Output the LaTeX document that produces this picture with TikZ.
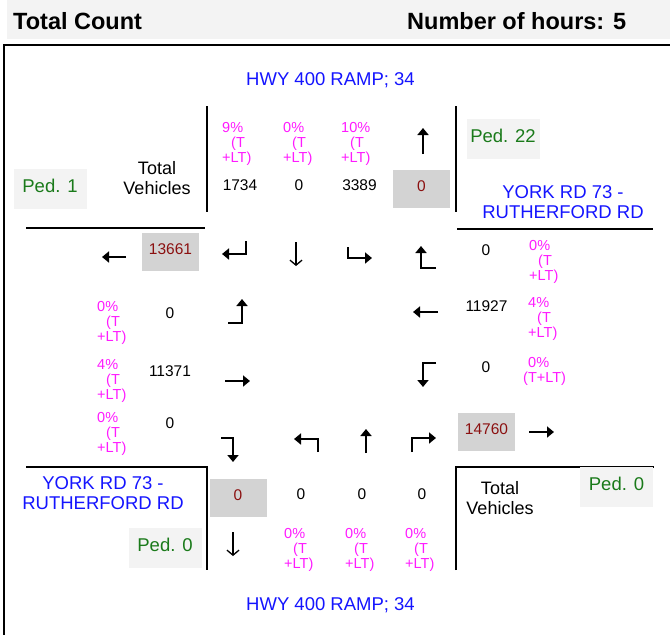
\documentclass[tikz,border=0pt]{standalone}
\usepackage{fontspec}
\setmainfont{Liberation Sans}
\usetikzlibrary{arrows.meta}
\definecolor{CountBlue}{HTML}{1414FF}
\definecolor{CountPink}{HTML}{FF1AFF}
\definecolor{CountGreen}{HTML}{1A7A1A}
\definecolor{CountRed}{HTML}{8B1010}
\definecolor{CountGray}{HTML}{D3D3D3}
\definecolor{PedGray}{HTML}{F3F3F3}
\newcommand{\pcttl}[1]{#1\%\\\hspace*{9pt}(T\\+LT)}

\tikzset{
  road/.style={CountBlue,font=\fontsize{18.5}{20}\selectfont,align=center,inner sep=0pt},
  pct/.style={CountPink,font=\fontsize{14.5}{15}\selectfont,align=left,anchor=north west,inner sep=0pt},
  cnt/.style={font=\fontsize{15.5}{17}\selectfont,inner sep=0pt},
  tot/.style={fill=CountGray,text=CountRed,font=\fontsize{15.5}{17}\selectfont,
    minimum width=57pt,minimum height=38pt,text height=11.5pt,text depth=7pt,inner sep=0pt},
  ped/.style={fill=PedGray,text=CountGreen,font=\fontsize{18.5}{20}\selectfont,
    minimum width=73pt,minimum height=40pt,text height=13pt,text depth=7pt,inner sep=0pt},
  veh/.style={font=\fontsize{18}{20}\selectfont,align=center,inner sep=0pt},
  hdr/.style={font=\fontsize{23.5}{26}\selectfont\bfseries,anchor=west,inner sep=0pt},
  mv/.style={line width=2.8pt},
  thru/.style={line width=1.3pt,-{Straight Barb[length=5pt,width=12pt]}},
  kerb/.style={line width=2.5pt},
}

\begin{document}
\begin{tikzpicture}[x=1pt,y=-1pt,>={Triangle[length=7pt,width=11pt]}]
  \useasboundingbox (0,0) rectangle (670,635);
  \fill[PedGray] (7,0) rectangle (670,39);
  \node[hdr] (title) at (13,21) {Total Count};
  \node[hdr] (hours) at (407,21) {Number of hours: 5};
  \draw[line width=2pt] (4,635) -- (4,45) -- (670,45);

  \node[road] (nroad) at (330.5,80) {HWY 400 RAMP; 34};
  \node[road] (sroad) at (330.5,605) {HWY 400 RAMP; 34};
  \node[road] (eroad) at (563,202) {YORK RD 73 -\\RUTHERFORD RD};
  \node[road] (wroad) at (103,493) {YORK RD 73 -\\RUTHERFORD RD};

  \draw[kerb] (26,228) -- (205,228);
  \draw[kerb] (207,106) -- (207,212);
  \draw[kerb] (456,106) -- (456,212);
  \draw[kerb] (457,229) -- (653,229);
  \draw[kerb] (26,467) -- (207,467) -- (207,570);
  \draw[kerb] (456,570) -- (456,467) -- (654,467);

  \node[ped] (pedw) at (50,189) {Ped. 1};
  \node[ped] (pedn) at (503,139) {Ped. 22};
  \node[ped] (peds) at (165,548) {Ped. 0};
  \node[ped] (pede) at (616.5,487) {Ped. 0};
  \node[veh] (vehnw) at (157,178.5) {Total\\Vehicles};
  \node[veh] (vehse) at (500,498.5) {Total\\Vehicles};

  \node[pct] (pn1) at (222,122) {\pcttl{9}};
  \node[pct] (pn2) at (283,122) {\pcttl{0}};
  \node[pct] (pn3) at (341,122) {\pcttl{10}};
  \node[cnt] (cn1) at (240,185) {1734};
  \node[cnt] (cn2) at (299,185) {0};
  \node[cnt] (cn3) at (359.5,185) {3389};
  \node[tot] (totn) at (421.5,189) {0};
  \draw[mv,->] (423,154) -- (423,128);

  \node[tot] (totw) at (170.5,252) {13661};
  \draw[mv,->] (126,257) -- (102,257);
  \draw[mv,->] (246,241) -- (246,254) -- (222,254);
  \draw[thru] (296,242) -- (296,266);
  \draw[mv,->] (348,247) -- (348,258) -- (372,258);
  \draw[mv,->] (436,268) -- (421,268) -- (421,246);

  \node[cnt] (ce1) at (486,250) {0};
  \node[cnt] (ce2) at (486.5,306) {11927};
  \node[cnt] (ce3) at (486,367) {0};
  \node[pct] (pe1) at (529,240) {\pcttl{0}};
  \node[pct] (pe2) at (528,297) {\pcttl{4}};
  \node[pct] (pe3) at (523,357) {\hspace*{5pt}0\%\\(T+LT)};
  \draw[mv,->] (438,312) -- (413,312);
  \draw[mv,->] (436,363) -- (423,363) -- (423,387);

  \node[pct] (pw1) at (97,301) {\pcttl{0}};
  \node[pct] (pw2) at (97,359) {\pcttl{4}};
  \node[pct] (pw3) at (97,412) {\pcttl{0}};
  \node[cnt] (cw1) at (170,313) {0};
  \node[cnt] (cw2) at (170,371) {11371};
  \node[cnt] (cw3) at (170,423) {0};
  \draw[mv,->] (228,323) -- (242,323) -- (242,299);
  \draw[mv,->] (225,381) -- (250,381);
  \draw[mv,->] (221,438) -- (233,438) -- (233,462);

  \draw[mv,->] (318,452) -- (318,439) -- (294,439);
  \draw[mv,->] (366,453) -- (366,429);
  \draw[mv,->] (412,452) -- (412,438) -- (436,438);
  \node[tot] (tote) at (486.5,432) {14760};
  \draw[mv,->] (529,432) -- (554,432);

  \node[tot] (tots) at (238,498) {0};
  \node[cnt] (cs1) at (301,494) {0};
  \node[cnt] (cs2) at (362,494) {0};
  \node[cnt] (cs3) at (422,494) {0};
  \draw[thru] (233,532) -- (233,556);
  \node[pct] (ps1) at (284,528) {\pcttl{0}};
  \node[pct] (ps2) at (345,528) {\pcttl{0}};
  \node[pct] (ps3) at (405,528) {\pcttl{0}};
\end{tikzpicture}
\end{document}
